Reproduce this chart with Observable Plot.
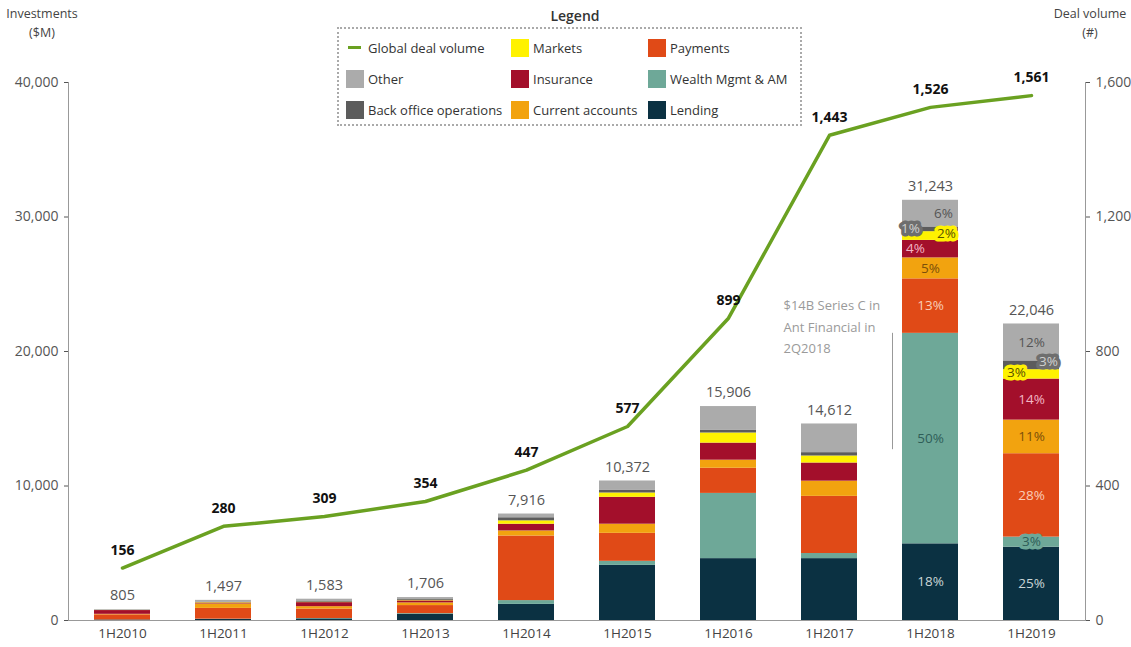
<!DOCTYPE html>
<html>
<head>
<meta charset="utf-8">
<script src="https://cdn.jsdelivr.net/npm/d3@7"></script>
<script src="https://cdn.jsdelivr.net/npm/@observablehq/plot@0.6"></script>
<style>
  html, body { margin: 0; padding: 0; background: #fff; }
  #wrap { position: relative; width: 1131px; height: 647px; font-family: "Open Sans", sans-serif; color: #333; }
  #chart { position: absolute; left: 0; top: 0; }
  .atitle { position: absolute; font-size: 12.5px; color: #444; text-align: center; line-height: 19px; }
  #legend { position: absolute; left: 337px; top: 27px; width: 461px; height: 95px; border: 2px dotted #aaa; }
  #legendTitle { position: absolute; left: 537px; top: 6px; width: 76px; text-align: center; font-size: 14px; font-weight: 600; color: #333; }
  .li { position: absolute; font-size: 13px; color: #333; line-height: 17px; white-space: nowrap; }
  .sw { position: absolute; width: 18px; height: 18px; }
</style>
</head>
<body>
<div id="wrap">
  <div id="chart"></div>
  <div class="atitle" style="left:2px; top:4px; width:80px;">Investments<br>($M)</div>
  <div class="atitle" style="left:1048px; top:4px; width:84px;">Deal volume<br>(#)</div>
  <div id="legendTitle">Legend</div>
  <div id="legend"></div>
</div>
<script>
// ---- data ----
const years = ["1H2010","1H2011","1H2012","1H2013","1H2014","1H2015","1H2016","1H2017","1H2018","1H2019"];
const categories = ["Lending","Wealth Mgmt & AM","Payments","Current accounts","Insurance","Markets","Back office operations","Other"];
const colors = ["#0b3142","#6ea898","#e04a17","#f2a30f","#a30f2b","#fff200","#5c5c5c","#ababab"];
const lending    = [40, 80, 120, 450, 1200, 4100, 4600, 4600, 5700, 5450];
const wealth     = [0, 20, 30, 60, 280, 300, 4850, 380, 15650, 750];
const payments   = [380, 800, 700, 600, 4800, 2080, 1870, 4250, 4050, 6200];
const currentAcc = [40, 330, 180, 200, 380, 680, 600, 1130, 1560, 2500];
const insurance  = [280, 70, 300, 150, 500, 2000, 1270, 1350, 1300, 3050];
const markets    = [10, 30, 30, 40, 250, 320, 750, 520, 650, 700];
const backOffice = [10, 40, 50, 60, 230, 220, 220, 250, 350, 650];
const other      = [45, 127, 173, 146, 276, 672, 1746, 2132, 1983, 2746];
const totals     = [805, 1497, 1583, 1706, 7916, 10372, 15906, 14612, 31243, 22046];
const dealVolume = [156, 280, 309, 354, 447, 577, 899, 1443, 1526, 1561];
const pctYears   = ["1H2018","1H2019"];
const pct2018    = ["18%","50%","13%","5%","4%","2%","1%","6%"];
const pct2019    = ["25%","3%","28%","11%","14%","3%","3%","12%"];
const annotation = "$14B Series C in\nAnt Financial in\n2Q2018";
const yTicks = [0, 10000, 20000, 30000, 40000];
const dealTicks = [0, 400, 800, 1200, 1600];

// ---- build tables ----
const series = [lending, wealth, payments, currentAcc, insurance, markets, backOffice, other];
const segments = [];
const mids = {};
years.forEach((yr, i) => {
  let acc = 0;
  series.forEach((s, c) => {
    const y1 = acc, y2 = acc + s[i];
    segments.push({year: yr, cat: categories[c], y1, y2});
    mids[yr + "|" + c] = (y1 + y2) / 2;
    acc = y2;
  });
});
const totalData = years.map((yr, i) => ({year: yr, total: totals[i]}));
const dealScale = 40000 / 1600;
const dealData = years.map((yr, i) => ({year: yr, v: dealVolume[i]}));

// label styling (kept separate from data)
const labelStyle = [
  {fill: "#c9d6d6"}, {fill: "#2f5e58"}, {fill: "#f9cdb8"}, {fill: "#7a4f0a"},
  {fill: "#f3b6c4"}, {fill: "#5a5200", halo: "#fff200"}, {fill: "#d0d0d0", halo: "#6e6e6e"}, {fill: "#555"}
];
const labelShift = {
  "1H2018": [[0,0],[0,0],[0,0],[0,0],[-15,0],[16,-2],[-20,-1],[13,0]],
  "1H2019": [[0,0],[0,0],[0,0],[0,0],[0,0],[-15,-2],[17,-4],[0,0]]
};
const pctData = [];
[pct2018, pct2019].forEach((arr, k) => {
  const yr = pctYears[k];
  arr.forEach((lab, c) => {
    const st = labelStyle[c];
    let halo = st.halo;
    if (yr === "1H2019" && c === 1) halo = "#6ea898";
    pctData.push({year: yr, y: mids[yr + "|" + c], label: lab, fill: st.fill, halo: halo,
      dx: labelShift[yr][c][0], dy: labelShift[yr][c][1]});
  });
});
const plain = pctData.filter(d => !d.halo);
const boxed = pctData.filter(d => d.halo);

const fmt = d3.format(",");
const textMarks = [];
plain.forEach(d => textMarks.push(Plot.text([d], {x: "year", y: "y", text: "label", fill: d.fill, fontSize: 13.5, dx: d.dx, dy: d.dy})));
boxed.forEach(d => textMarks.push(Plot.text([d], {x: "year", y: "y", text: "label", fill: d.fill, stroke: d.halo, strokeWidth: 7, strokeLinejoin: "round", fontSize: 13.5, dx: d.dx, dy: d.dy})));

const chart = Plot.plot({
  width: 1131, height: 647,
  marginTop: 82, marginBottom: 27, marginLeft: 68, marginRight: 46,
  style: {fontFamily: "Open Sans, sans-serif", fontSize: "13px", background: "transparent"},
  x: {domain: years, paddingInner: 0.45, paddingOuter: 0.24, axis: null},
  y: {domain: [0, 40000], axis: null},
  color: {domain: categories, range: colors},
  marks: [
    Plot.axisY({anchor: "left", ticks: yTicks, tickFormat: fmt, tickSize: 4, tickPadding: 6, color: "#555", label: null, fontSize: 14}),
    Plot.axisY({anchor: "right", ticks: dealTicks.map(t => t * dealScale), tickFormat: d => fmt(Math.round(d / dealScale)), tickSize: 4, tickPadding: 6, color: "#555", label: null, fontSize: 14}),
    Plot.axisX({tickSize: 0, tickPadding: 8, color: "#444", label: null, fontSize: 13.5}),
    Plot.frame({anchor: "left", stroke: "#999"}),
    Plot.frame({anchor: "right", stroke: "#999"}),
    Plot.barY(segments, {x: "year", y1: "y1", y2: "y2", fill: "cat"}),
    Plot.ruleY([0], {stroke: "#999"}),
    Plot.text(totalData, {x: "year", y: "total", text: d => fmt(d.total), dy: -14, fill: "#555", fontSize: 14.5}),
    Plot.ruleX([{year: "1H2018"}], {x: "year", y1: 12700, y2: 21350, dx: -38, stroke: "#999"}),
    Plot.text([{year: "1H2018", t: annotation}], {x: "year", y: 24200, text: "t", dx: -147, textAnchor: "start", lineAnchor: "top", fill: "#9a9a9a", fontSize: 13, lineHeight: 1.65}),
    Plot.line(dealData, {x: "year", y: d => d.v * dealScale, stroke: "#6aa121", strokeWidth: 3.5}),
    Plot.text(dealData, {x: "year", y: d => d.v * dealScale, text: d => fmt(d.v), dy: -18, fill: "#111", fontWeight: "bold", fontSize: 14}),
    ...textMarks
  ]
});
document.getElementById("chart").appendChild(chart);

// ---- legend (HTML) ----
const legend = document.getElementById("legend");
const legendItems = [
  {name: "Global deal volume", line: "#6aa121"},
  {name: "Markets", c: 5}, {name: "Payments", c: 2},
  {name: "Other", c: 7}, {name: "Insurance", c: 4}, {name: "Wealth Mgmt & AM", c: 1},
  {name: "Back office operations", c: 6}, {name: "Current accounts", c: 3}, {name: "Lending", c: 0}
];
const colX = [7, 172, 309];
const rowY = [10, 41, 72];
legendItems.forEach((it, i) => {
  const col = i % 3, row = Math.floor(i / 3);
  const x = colX[col], y = rowY[row];
  if (it.line) {
    const l = document.createElement("div");
    l.style.cssText = `position:absolute;left:${x + 2}px;top:${y + 7}px;width:13px;height:3px;background:${it.line};`;
    legend.appendChild(l);
  } else {
    const s = document.createElement("div");
    s.className = "sw";
    s.style.left = x + "px"; s.style.top = y + "px"; s.style.background = colors[it.c];
    legend.appendChild(s);
  }
  const t = document.createElement("div");
  t.className = "li";
  t.style.left = (x + 22) + "px"; t.style.top = (y + 1) + "px";
  t.textContent = it.name;
  legend.appendChild(t);
});
</script>
</body>
</html>
